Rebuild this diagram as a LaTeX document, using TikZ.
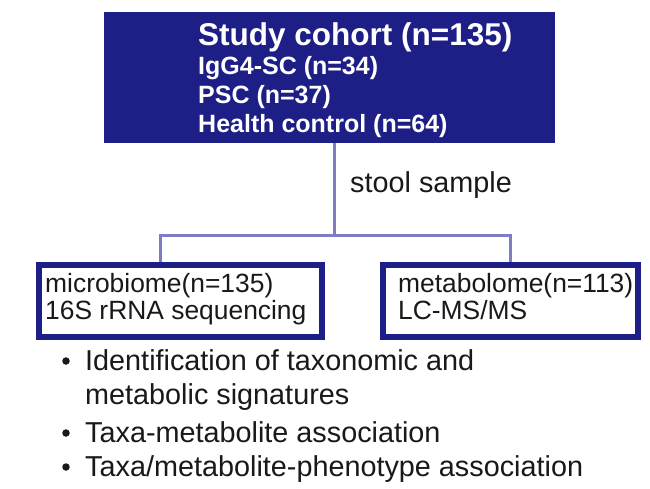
\documentclass[tikz,border=0pt]{standalone}
\usepackage{fontspec}
\setmainfont{Liberation Sans}
\definecolor{navy}{RGB}{30,30,135}
\definecolor{conn}{RGB}{125,125,195}
\definecolor{txt}{RGB}{25,25,25}
\begin{document}
\begin{tikzpicture}[x=1pt,y=-1pt,
  topbox/.style={fill=navy,draw=none,inner sep=0pt},
  subbox/.style={draw=navy,line width=6pt,fill=white,inner sep=0pt},
  conline/.style={draw=conn,line width=3pt},
  toptxt/.style={anchor=base west,inner sep=0pt,text=white,font=\fontsize{25}{30}\selectfont\bfseries},
  boxtxt/.style={anchor=base west,inner sep=0pt,text=txt,font=\fontsize{26.4}{31}\selectfont},
  bultxt/.style={anchor=base west,inner sep=0pt,text=txt,font=\fontsize{28.8}{34}\selectfont},
  buldot/.style={circle,fill=txt,inner sep=0pt,minimum size=7.5pt}]
\useasboundingbox[fill=white] (0,0) rectangle (650,488);
% top box
\node[topbox,minimum width=451pt,minimum height=131pt] (top) at (329.5,77.5) {};
\node[toptxt,font=\fontsize{31.5}{36}\selectfont\bfseries] (t1) at (198,45) {Study cohort (n=135)};
\node[toptxt] (t2) at (198,74) {IgG4-SC (n=34)};
\node[toptxt] (t3) at (198,103) {PSC (n=37)};
\node[toptxt] (t4) at (198,132) {Health control (n=64)};
% lower boxes
\node[subbox,minimum width=283pt,minimum height=72pt] (left) at (180.5,301) {};
\node[subbox,minimum width=255pt,minimum height=72pt] (right) at (510.5,301) {};
\node[boxtxt] (l1) at (45,292) {microbiome(n=135)};
\node[boxtxt] (l2) at (45,319) {16S rRNA sequencing};
\node[boxtxt] (r1) at (398,292) {metabolome(n=113)};
\node[boxtxt] (r2) at (398,319) {LC-MS/MS};
% connectors
\coordinate (split) at (334,235);
\coordinate (lj) at (160,235);
\coordinate (rj) at (510,235);
\draw[conline] (top.south -| split) -- (split);
\draw[conline] (lj |- left.north) -- (lj) -- (rj) -- (rj |- right.north);
\node[bultxt] (stool) at (350,192) {stool sample};
% bullets
\node[buldot] (b1) at (66,361) {};
\node[bultxt] (b1t) at (85,370) {Identification of taxonomic and};
\node[bultxt] (b1u) at (85,404) {metabolic signatures};
\node[buldot] (b2) at (66,433) {};
\node[bultxt] (b2t) at (85,442) {Taxa-metabolite association};
\node[buldot] (b3) at (66,467) {};
\node[bultxt] (b3t) at (85,476) {Taxa/metabolite-phenotype association};
\end{tikzpicture}
\end{document}
